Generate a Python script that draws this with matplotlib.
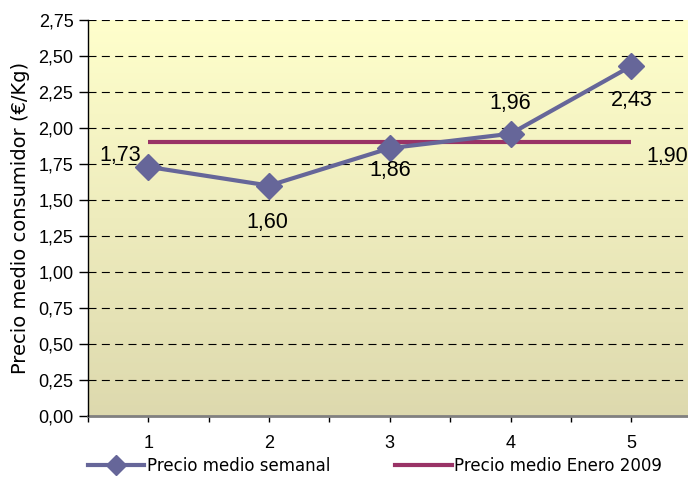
import matplotlib
matplotlib.use("Agg")
import matplotlib.pyplot as plt
import numpy as np
from matplotlib.lines import Line2D

weeks = [1, 2, 3, 4, 5]
weekly_price = [1.73, 1.60, 1.86, 1.96, 2.43]
january_avg = [1.90, 1.90, 1.90, 1.90, 1.90]
y_ticks = [0.0, 0.25, 0.5, 0.75, 1.0, 1.25, 1.5, 1.75, 2.0, 2.25, 2.5, 2.75]
weekly_label = "Precio medio semanal"
jan_label = "Precio medio Enero 2009"
y_title = "Precio medio consumidor (€/Kg)"

plt.rcParams['font.family'] = ['DejaVu Sans']
LIB = ['Liberation Sans', 'DejaVu Sans']

W, H = 688, 479
fig = plt.figure(figsize=(W/100, H/100), dpi=100)
ax = fig.add_axes([88/W, 1-416/H, (W-88)/W, (416-20)/H])

# gradient background
grad = np.linspace(0, 1, 256).reshape(-1, 1)
top = np.array([1.0, 1.0, 0.80])
bot = np.array([0.867, 0.851, 0.682])
img = top[None, None, :] * (1-grad[:, :, None]) + bot[None, None, :] * grad[:, :, None]
ax.imshow(img, extent=[0, 1, 0, 1], transform=ax.transAxes, aspect='auto', zorder=0)

ax.set_xlim(0.5, 5.47)
ax.set_ylim(0, 2.75)

for yv in y_ticks[1:]:
    ax.axhline(yv, color='black', lw=0.8, ls=(0, (7.2, 4.8)), zorder=1)

ax.plot(weeks, january_avg, color='#993366', lw=3, zorder=3, solid_capstyle='butt')
ax.plot(weeks, weekly_price, color='#666699', lw=3, marker='D', markersize=13,
        markerfacecolor='#666699', markeredgecolor='#666699', zorder=4)

lbl = lambda v: f"{v:.2f}".replace('.', ',')
offsets = [(-28, 11), (-2, -37), (0, -22), (0, 30), (0, -34)]
for x, v, off in zip(weeks, weekly_price, offsets):
    ax.annotate(lbl(v), (x, v), xytext=off, textcoords='offset pixels',
                ha='center', va='center', fontsize=15.5, family=LIB, zorder=5)
ax.annotate(lbl(january_avg[-1]), (weeks[-1], january_avg[-1]), xytext=(36, -14),
            textcoords='offset pixels', ha='center', va='center', fontsize=15.5,
            family=LIB, annotation_clip=False, zorder=5)

ax.set_yticks(y_ticks)
ax.set_yticklabels([lbl(v) for v in y_ticks], fontsize=13, family=LIB)
ax.set_xticks(weeks)
ax.set_xticklabels([str(w) for w in weeks], fontsize=13, family=LIB)
ax.set_xticks([0.5, 1.5, 2.5, 3.5, 4.5], minor=True)
ax.tick_params(axis='x', which='both', direction='out', length=4, width=1, pad=10, color='black')
ax.tick_params(axis='y', direction='out', length=6.5, width=1, pad=4)

for s in ['top', 'right']:
    ax.spines[s].set_visible(False)
ax.spines['left'].set_color('black')
ax.spines['left'].set_linewidth(1)
ax.spines['bottom'].set_color('#808080')
ax.spines['bottom'].set_linewidth(2)
ax.spines['left'].set_zorder(6)

ax.set_ylabel(y_title, fontsize=14, labelpad=6)

handles = [
    Line2D([], [], color='#666699', lw=3, marker='D', markersize=10),
    Line2D([], [], color='#993366', lw=3),
]
fig.legend(handles, [weekly_label, jan_label], loc='center', bbox_to_anchor=(375/W, 1-466/H),
           ncol=2, frameon=False, fontsize=12, handlelength=3.4, handletextpad=0.15,
           columnspacing=3.9)

fig.savefig("out.png", dpi=100)
